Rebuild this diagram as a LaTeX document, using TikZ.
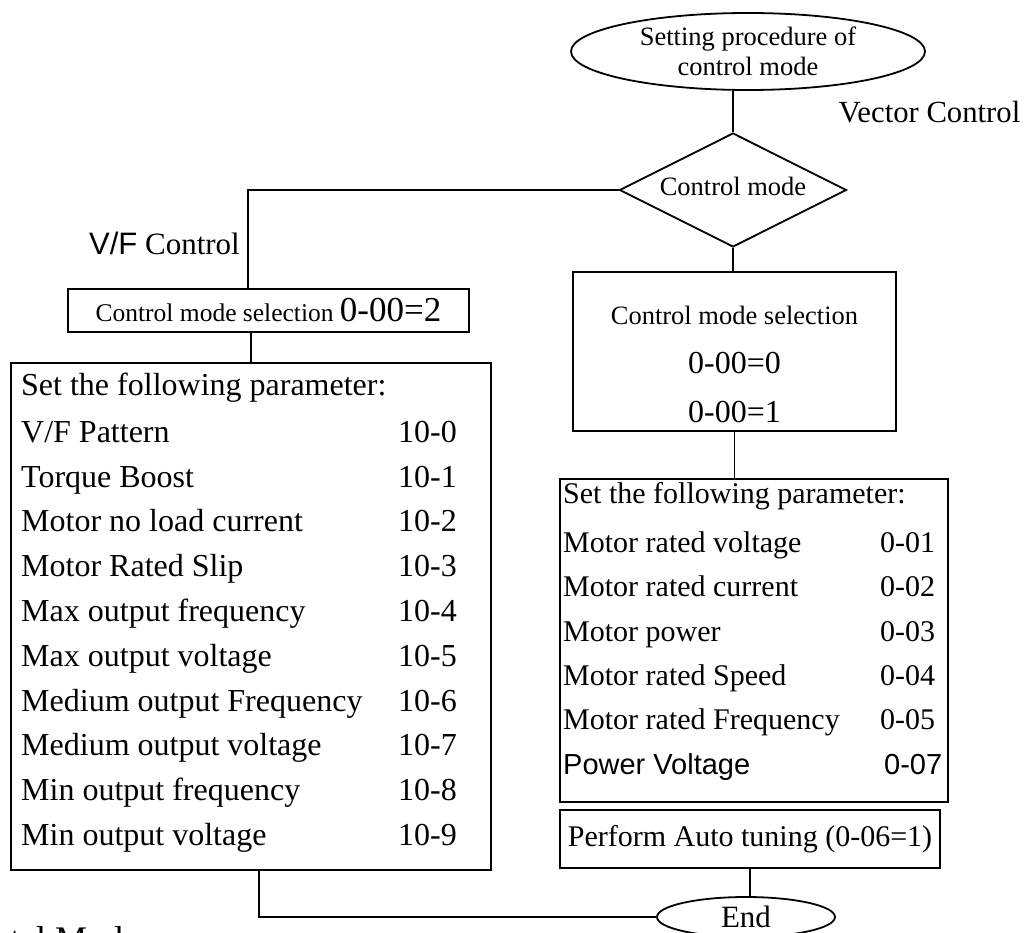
\documentclass[tikz,border=0pt]{standalone}
\usepackage{fontspec}
\setmainfont{Liberation Serif}
\newfontfamily\arialfont{Liberation Sans}
\usetikzlibrary{shapes.geometric,positioning,calc}
\newcommand{\smallsz}{\fontsize{26.5}{30}\selectfont}
\newcommand{\bigsz}{\fontsize{31}{36}\selectfont}
\tikzset{
  box/.style={rectangle,draw=black,line width=1.8pt,inner sep=0pt},
  term/.style={ellipse,draw=black,line width=1.8pt,inner sep=0pt},
  choice/.style={diamond,draw=black,line width=1.8pt,inner sep=0pt,aspect=2},
  conn/.style={draw=black,line width=1.8pt},
  lbl/.style={inner sep=0pt,font=\bigsz},
  item/.style={anchor=mid west,inner sep=0pt,font=\fontsize{32}{36}\selectfont},
  itemr/.style={anchor=mid west,inner sep=0pt,font=\fontsize{30}{36}\selectfont},
}
\begin{document}
\begin{tikzpicture}[x=1pt,y=-1pt]
  \useasboundingbox (0,0) rectangle (1025,933);
  % start and decision
  \node[term,minimum width=354pt,minimum height=77pt,align=center,font=\smallsz]
     (start) at (748,51.5) {Setting procedure of\\control mode};
  \node[choice,minimum width=227pt,minimum height=114pt,font=\smallsz,text depth=8pt]
     (mode) at (733,190) {Control mode};
  \node[lbl,font=\fontsize{30.7}{36}\selectfont] (vec) at (929.5,112) {Vector Control};
  \node[lbl,anchor=mid east] (vf) at (240,252) {{\arialfont V/F} Control};
  % V/F branch
  \node[box,minimum width=401pt,minimum height=43pt] (sel1) at (268.5,310.5)
     {{\fontsize{25.5}{30}\selectfont Control mode selection\ }{\fontsize{35}{40}\selectfont 0-00=2}};
  \node[box,minimum width=480pt,minimum height=507pt] (vfpar) at (251,616.5) {};
  \node[item] (vfhead) at (21,393) {Set the following parameter:};
  \foreach \name/\num [count=\i from 0] in {{V/F Pattern}/10-0,{Torque Boost}/10-1,
      {Motor no load current}/10-2,{Motor Rated Slip}/10-3,{Max output frequency}/10-4,
      {Max output voltage}/10-5,{Medium output Frequency}/10-6,
      {Medium output voltage}/10-7,{Min output frequency}/10-8,{Min output voltage}/10-9}
  {
    \node[item] (vfn\i) at (21,440+44.8*\i) {\name};
    \node[item] (vfc\i) at (398,440+44.8*\i) {\num};
  }
  % vector branch
  \node[box,minimum width=323pt,minimum height=159pt] (sel2) at (734.5,351.5) {};
  \node[lbl,font=\smallsz] (sel2a) at (734.5,315) {Control mode selection};
  \node[lbl,font=\fontsize{32}{36}\selectfont] (sel2b) at (734.5,363) {0-00=0};
  \node[lbl,font=\fontsize{32}{36}\selectfont] (sel2c) at (734.5,412) {0-00=1};
  \node[box,minimum width=388pt,minimum height=323pt] (vecpar) at (754,640.5) {};
  \node[itemr] (vechead) at (563,501) {Set the following parameter:};
  \foreach \name/\num [count=\i from 0] in {{Motor rated voltage}/0-01,
      {Motor rated current}/0-02,{Motor power}/0-03,{Motor rated Speed}/0-04,
      {Motor rated Frequency}/0-05}
  {
    \node[itemr] (vecn\i) at (563,550+44.4*\i) {\name};
    \node[itemr] (vecc\i) at (880,550+44.4*\i) {\num};
  }
  \node[itemr,font=\arialfont\fontsize{29}{36}\selectfont] (vecn5) at (563,772) {Power Voltage};
  \node[itemr,font=\arialfont\fontsize{29}{36}\selectfont] (vecc5) at (884,772) {0-07};
  \node[box,minimum width=380pt,minimum height=58pt,font=\fontsize{30}{36}\selectfont]
     (tune) at (750,839) {Perform Auto tuning (0-06=1)};
  \node[term,minimum width=178pt,minimum height=40pt,font=\bigsz] (end) at (746,917) {End};
  \node[anchor=base west,inner sep=0pt,font=\fontsize{36}{40}\selectfont] (cut) at (10,951) {tal Mode};
  % connectors
  \draw[conn] (mode.north) -- (mode.north |- start.south);
  \draw[conn] (mode.west) -| ([xshift=-20.5pt]sel1.north);
  \draw[conn] (vfpar.north) -- (vfpar.north |- sel1.south);
  \draw[conn] (mode.south) -- (mode.south |- sel2.north);
  \draw[conn] (sel2.south) -- (sel2.south |- vecpar.north);
  \draw[conn] (tune.south) -- (tune.south |- end.north);
  \draw[conn] ([xshift=8pt]vfpar.south) |- (end.west);
\end{tikzpicture}
\end{document}
